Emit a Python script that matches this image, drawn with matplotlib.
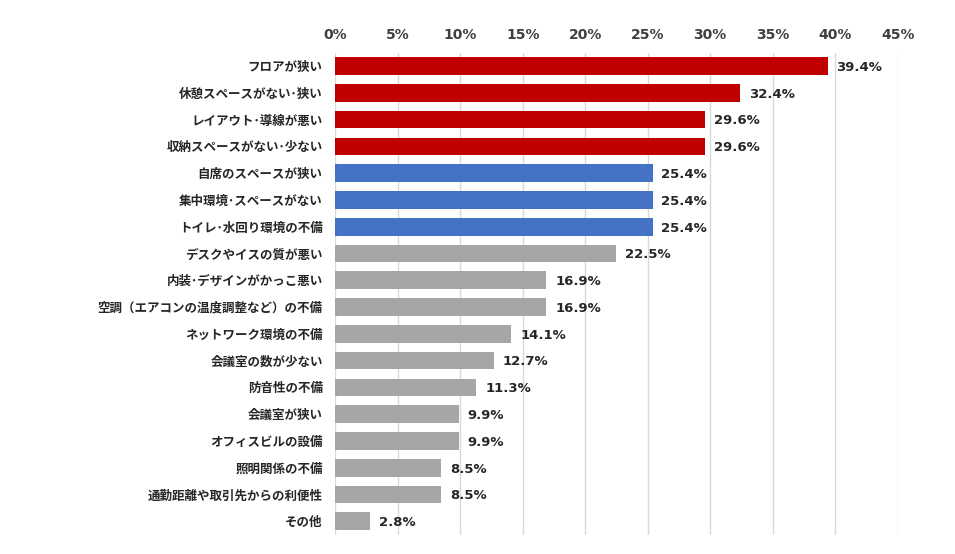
import matplotlib
matplotlib.use("Agg")
import matplotlib.pyplot as plt
from matplotlib.ticker import FuncFormatter

plt.rcParams['font.family'] = ['Noto Sans CJK JP', 'DejaVu Sans']

categories = [
    "フロアが狭い",
    "休憩スペースがない･狭い",
    "レイアウト･導線が悪い",
    "収納スペースがない･少ない",
    "自席のスペースが狭い",
    "集中環境･スペースがない",
    "トイレ･水回り環境の不備",
    "デスクやイスの質が悪い",
    "内装･デザインがかっこ悪い",
    "空調（エアコンの温度調整など）の不備",
    "ネットワーク環境の不備",
    "会議室の数が少ない",
    "防音性の不備",
    "会議室が狭い",
    "オフィスビルの設備",
    "照明関係の不備",
    "通勤距離や取引先からの利便性",
    "その他",
]
values = [39.4, 32.4, 29.6, 29.6, 25.4, 25.4, 25.4, 22.5, 16.9, 16.9,
          14.1, 12.7, 11.3, 9.9, 9.9, 8.5, 8.5, 2.8]
groups = ["red"] * 4 + ["blue"] * 3 + ["gray"] * 11
palette = {"red": "#C00000", "blue": "#4472C4", "gray": "#A6A6A6"}
x_ticks = [0, 5, 10, 15, 20, 25, 30, 35, 40, 45]

fig = plt.figure(figsize=(9.55, 5.54), dpi=100)
ax = fig.add_axes([0.351, 0.035, 0.589, 0.870])

ypos = list(range(len(categories)))
ax.barh(ypos, values, height=0.66, color=[palette[g] for g in groups], zorder=3)

ax.set_ylim(len(categories) - 0.5, -0.5)
ax.set_xlim(0, 45)
ax.set_xticks(x_ticks)
ax.xaxis.set_major_formatter(FuncFormatter(lambda v, p: f"{v:.0f}%"))
ax.xaxis.tick_top()
ax.tick_params(axis='x', length=0, pad=8, labelsize=10, labelcolor="#404040")
for lab in ax.get_xticklabels():
    lab.set_fontweight("bold")
    lab.set_family(['DejaVu Sans'])
ax.set_yticks(ypos)
ax.set_yticklabels(categories, fontsize=9, fontweight="bold", color="#262626")
ax.tick_params(axis='y', length=0, pad=9)

ax.grid(axis='x', color="#D9D9D9", linewidth=1, zorder=0)
for s in ax.spines.values():
    s.set_visible(False)

for y, v in zip(ypos, values):
    ax.text(v + 0.7, y + 0.05, f"{v:.1f}%", va="center", ha="left",
            fontsize=9.5, fontweight="bold", color="#262626", family=['DejaVu Sans'])

fig.savefig("out.png", dpi=100, facecolor="white")
